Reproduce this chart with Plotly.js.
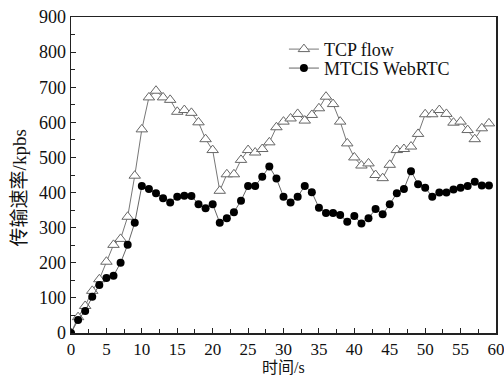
<!DOCTYPE html>
<html>
<head>
<meta charset="utf-8">
<script src="https://cdn.plot.ly/plotly-3.0.1.min.js"></script>
<style>html,body{margin:0;padding:0;background:#fff;}#chart{width:504px;height:376px;}</style>
</head>
<body>
<div id="chart"></div>
<script>
const timeS = [0,1,2,3,4,5,6,7,8,9,10,11,12,13,14,15,16,17,18,19,20,21,22,23,24,25,26,27,28,29,30,31,32,33,34,35,36,37,38,39,40,41,42,43,44,45,46,47,48,49,50,51,52,53,54,55,56,57,58,59];
const tcpFlow = [0,45,77,120,153,203,251,268,331,448,
  580,671,690,671,664,630,635,627,600,552,
  521,405,452,452,493,521,514,524,543,586,
  602,611,624,605,621,640,673,652,602,540,
  500,477,483,450,441,479,521,524,531,567,
  623,623,635,624,599,602,578,552,583,597];
const mtcisWebRTC = [0,37,63,103,137,157,163,200,251,314,
  419,410,398,384,372,388,391,390,367,355,
  367,314,327,344,377,419,419,445,474,440,
  388,372,388,419,401,357,342,342,336,317,
  333,312,327,353,338,367,398,410,461,424,
  414,388,400,400,409,414,419,431,420,420];
const seriesNames = ["TCP flow", "MTCIS WebRTC"];
const xTitle = "时间/s";
const yTitle = "传输速率/kpbs";

const FONT = "Liberation Serif, Times New Roman, Noto Sans CJK SC, serif";

const traces = [
  {x: timeS, y: tcpFlow, name: seriesNames[0], mode: 'lines+markers', type: 'scatter',
   legend: 'legend',
   line: {color: '#777', width: 1},
   marker: {symbol: 'triangle-up', size: 10, color: '#fff', line: {color: '#666', width: 1}}},
  {x: timeS, y: mtcisWebRTC, name: seriesNames[1], mode: 'lines+markers', type: 'scatter',
   legend: 'legend2',
   line: {color: '#666', width: 1},
   marker: {symbol: 'circle', size: 8, color: '#000', line: {width: 0}}}
];

const axisCommon = {
  showgrid: false, zeroline: false, showline: true, mirror: true,
  linecolor: '#222', linewidth: 1.5, ticks: 'inside', ticklen: 5, tickwidth: 1, tickcolor: '#222',
  ticklabeloverflow: 'allow'
};

const legendCommon = {xanchor: 'left', yanchor: 'top', bgcolor: 'rgba(0,0,0,0)',
  font: {family: FONT, size: 18, color: '#111'}};

const layout = {
  width: 504, height: 376,
  margin: {l: 71, r: 8, t: 17, b: 43},
  paper_bgcolor: '#fff', plot_bgcolor: '#fff',
  showlegend: true,
  legend: Object.assign({x: 0.501, y: 0.956}, legendCommon),
  legend2: Object.assign({x: 0.501, y: 0.896}, legendCommon),
  xaxis: Object.assign({}, axisCommon, {range: [0, 60], tick0: 0, dtick: 5,
    tickfont: {family: FONT, size: 17, color: '#111'},
    minor: {ticks: 'inside', ticklen: 4, dtick: 2.5, tickcolor: '#222'}}),
  yaxis: Object.assign({}, axisCommon, {range: [0, 900], tick0: 0, dtick: 100,
    tickfont: {family: FONT, size: 18, color: '#111'},
    minor: {ticks: 'inside', ticklen: 4, dtick: 50, tickcolor: '#222'}}),
  annotations: [
    {text: yTitle, textangle: -90, xref: 'paper', yref: 'paper',
     x: -0.119, y: 0.459, xanchor: 'center', yanchor: 'middle', showarrow: false,
     font: {family: FONT, size: 19, color: '#111'}},
    {text: xTitle, xref: 'paper', yref: 'paper',
     x: 0.5, y: -0.108, xanchor: 'center', yanchor: 'middle', showarrow: false,
     font: {family: FONT, size: 16, color: '#111'}}
  ]
};

Plotly.newPlot('chart', traces, layout, {displayModeBar: false, staticPlot: true});
</script>
</body>
</html>
